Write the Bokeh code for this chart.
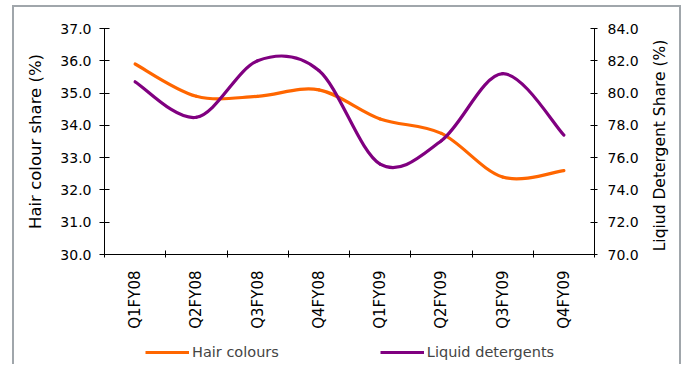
import math
from bokeh.plotting import figure
from bokeh.layouts import row, column
from bokeh.models import (LinearAxis, Range1d, FixedTicker, CustomJSTickFormatter,
                          NumeralTickFormatter, Legend, LegendItem)
from bokeh.embed import file_html
from bokeh.resources import INLINE

# ---- data ----
QUARTERS = ["Q1FY08", "Q2FY08", "Q3FY08", "Q4FY08", "Q1FY09", "Q2FY09", "Q3FY09", "Q4FY09"]
HAIR_COLOURS = [35.9, 34.9, 34.9, 35.1, 34.2, 33.75, 32.4, 32.6]
LIQUID_DETERGENTS = [80.7, 78.5, 82.0, 81.4, 75.6, 77.05, 81.2, 77.4]
LEFT_TICKS = [30.0, 31.0, 32.0, 33.0, 34.0, 35.0, 36.0, 37.0]
RIGHT_TICKS = [70.0, 72.0, 74.0, 76.0, 78.0, 80.0, 82.0, 84.0]
SERIES_NAMES = ["Hair colours", "Liquid detergents"]
LEFT_LABEL = "Hair colour share (%)"
RIGHT_LABEL = "Liqiud Detergent Share (%)"

ORANGE = "#FF6600"
PURPLE = "#800080"
FONT = "DejaVu Sans"
BORDER = "#A0A6AB"
X_POS = [i + 0.5 for i in range(len(QUARTERS))]


def smooth_segments(values):
    """Excel-like smoothed line: cubic Bezier segments through each category point."""
    n = len(values)
    seg = dict(x0=[], y0=[], x1=[], y1=[], cx0=[], cy0=[], cx1=[], cy1=[])
    for i in range(n - 1):
        a = max(i - 1, 0)
        b = min(i + 2, n - 1)
        seg["x0"].append(X_POS[i]); seg["y0"].append(values[i])
        seg["x1"].append(X_POS[i + 1]); seg["y1"].append(values[i + 1])
        seg["cx0"].append(X_POS[i] + (X_POS[i + 1] - X_POS[a]) / 6.0)
        seg["cy0"].append(values[i] + (values[i + 1] - values[a]) / 6.0)
        seg["cx1"].append(X_POS[i + 1] - (X_POS[b] - X_POS[i]) / 6.0)
        seg["cy1"].append(values[i + 1] - (values[b] - values[i]) / 6.0)
    return seg


def plain(fig):
    fig.outline_line_color = None
    fig.background_fill_color = "white"
    fig.border_fill_color = "white"
    fig.xgrid.visible = False
    fig.ygrid.visible = False


# ---------------- main chart ----------------
p = figure(frame_width=490, frame_height=226,
           x_range=Range1d(0, len(QUARTERS)), y_range=Range1d(LEFT_TICKS[0], LEFT_TICKS[-1]),
           output_backend="svg", toolbar_location=None,
           min_border_left=90, min_border_right=48, min_border_top=21, min_border_bottom=82,
           x_axis_type=None, y_axis_type=None)
plain(p)
p.extra_y_ranges = {"det": Range1d(RIGHT_TICKS[0], RIGHT_TICKS[-1])}

# bottom category axis: tick marks between categories, labels at centres
xaxis = LinearAxis(
    ticker=FixedTicker(ticks=X_POS, minor_ticks=list(range(len(QUARTERS) + 1))),
    formatter=CustomJSTickFormatter(args=dict(labels=QUARTERS),
                                    code="return labels[Math.round(tick - 0.5)]"))
xaxis.major_tick_in = 0
xaxis.major_tick_out = 0
xaxis.minor_tick_in = 4
xaxis.minor_tick_out = 3
xaxis.minor_tick_line_color = "black"
xaxis.major_label_orientation = math.pi / 2
xaxis.major_label_standoff = 13
p.add_layout(xaxis, "below")

yaxis = LinearAxis(ticker=FixedTicker(ticks=LEFT_TICKS), formatter=NumeralTickFormatter(format="0.0"),
                   axis_label=LEFT_LABEL)
yaxis.major_tick_in = 5
yaxis.major_tick_out = 5
yaxis.minor_tick_line_color = None
yaxis.major_label_standoff = 8
yaxis.axis_label_standoff = 12
yaxis.axis_label_text_font = FONT
yaxis.axis_label_text_font_size = "16.5px"
yaxis.axis_label_text_font_style = "normal"
yaxis.axis_label_text_color = "black"
p.add_layout(yaxis, "left")

raxis = LinearAxis(y_range_name="det", ticker=FixedTicker(ticks=RIGHT_TICKS),
                   formatter=NumeralTickFormatter(format="0.0"))
raxis.major_tick_in = 4
raxis.major_tick_out = 3
raxis.minor_tick_line_color = None
raxis.major_label_standoff = 10
p.add_layout(raxis, "right")

for ax in (xaxis, yaxis, raxis):
    ax.axis_line_color = "black"
    ax.major_tick_line_color = "black"
    ax.major_label_text_font = FONT
    ax.major_label_text_font_size = "14px"
    ax.major_label_text_color = "black"
xaxis.major_label_text_font_size = "15px"

hair = smooth_segments(HAIR_COLOURS)
det = smooth_segments(LIQUID_DETERGENTS)
p.bezier(source=hair, x0="x0", y0="y0", x1="x1", y1="y1", cx0="cx0", cy0="cy0",
         cx1="cx1", cy1="cy1", line_color=ORANGE, line_width=3.2, line_cap="round")
p.bezier(source=det, x0="x0", y0="y0", x1="x1", y1="y1", cx0="cx0", cy0="cy0",
         cx1="cx1", cy1="cy1", line_color=PURPLE, line_width=3.2, line_cap="round",
         y_range_name="det")

# ---------------- right-hand axis title (reads bottom-to-top) ----------------
p2 = figure(frame_width=1, frame_height=234, x_range=Range1d(0, 1), y_range=Range1d(0, 1),
            output_backend="svg", toolbar_location=None,
            min_border_left=36, min_border_right=0, min_border_top=21, min_border_bottom=74,
            x_axis_type=None, y_axis_type=None)
plain(p2)
title_axis = LinearAxis(ticker=FixedTicker(ticks=[]), axis_label=RIGHT_LABEL)
title_axis.axis_line_color = None
title_axis.major_tick_line_color = None
title_axis.minor_tick_line_color = None
title_axis.major_label_text_font_size = "0px"
title_axis.major_tick_out = 0
title_axis.major_tick_in = 0
title_axis.axis_label_standoff = 10
title_axis.axis_label_text_font = FONT
title_axis.axis_label_text_font_size = "15.5px"
title_axis.axis_label_text_font_style = "normal"
title_axis.axis_label_text_color = "black"
p2.add_layout(title_axis, "left")

# ---------------- legend strip under the chart ----------------
# the strip's ranges lie away from the data, so only the legend swatches show
p3 = figure(frame_width=665, frame_height=28, x_range=Range1d(100, 101), y_range=Range1d(100, 101),
            output_backend="svg", toolbar_location=None,
            min_border_left=0, min_border_right=0, min_border_top=0, min_border_bottom=0,
            x_axis_type=None, y_axis_type=None)
plain(p3)
l_hair = p3.line(x=X_POS, y=HAIR_COLOURS, line_color=ORANGE, line_width=3.2)
l_det = p3.line(x=X_POS, y=LIQUID_DETERGENTS, line_color=PURPLE, line_width=3.2)
legend = Legend(items=[LegendItem(label=SERIES_NAMES[0], renderers=[l_hair]),
                       LegendItem(label=SERIES_NAMES[1], renderers=[l_det])],
                orientation="horizontal", location=(131, 4),
                label_text_font=FONT, label_text_font_size="14.5px",
                glyph_width=44, glyph_height=12, label_height=12, label_standoff=3, spacing=101,
                border_line_color=None, background_fill_alpha=0,
                padding=0, margin=0)
p3.add_layout(legend, "center")

layout = column(row(p, p2), p3)
layout.margin = (5, 0, 0, 12)
layout.styles = {"border-top": f"2px solid {BORDER}", "border-left": f"2px solid {BORDER}",
                 "border-right": f"2px solid {BORDER}", "background-color": "white"}

open("out.html", "w").write(file_html(layout, INLINE))
